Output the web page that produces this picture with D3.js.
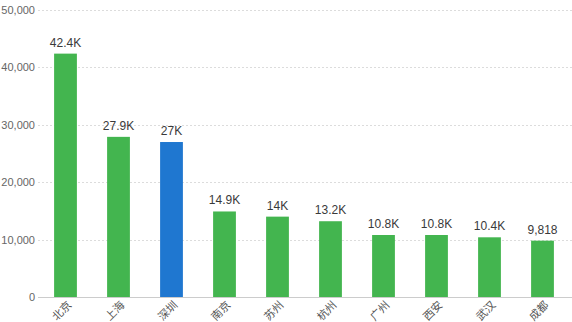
<!DOCTYPE html>
<html>
<head>
<meta charset="utf-8">
<script src="https://cdn.jsdelivr.net/npm/d3@7"></script>
<style>
  html, body { margin: 0; padding: 0; background: #fff; }
  svg { display: block; font-family: "Liberation Sans", Arial, "Noto Sans CJK SC", sans-serif; }
</style>
</head>
<body>
<svg id="chart" width="572" height="322"></svg>
<script>
const cities = ["北京", "上海", "深圳", "南京", "苏州", "杭州", "广州", "西安", "武汉", "成都"];
const counts = [42400, 27900, 27000, 14900, 14000, 13200, 10800, 10800, 10400, 9818];
const highlighted = ["深圳"];
const yTicks = [0, 10000, 20000, 30000, 40000, 50000];

const svg = d3.select("#chart");
const margin = { left: 39, right: 3, top: 10, bottom: 25 };
const W = 572, H = 322;

const x = d3.scaleBand().domain(cities).range([margin.left, W - margin.right])
  .paddingInner(0.57).paddingOuter(0.285);
const y = d3.scaleLinear().domain([0, 50000]).range([H - margin.bottom, margin.top]);

// horizontal grid
svg.append("g").selectAll("line").data(yTicks.filter(d => d > 0)).join("line")
  .attr("x1", margin.left - 1).attr("x2", W)
  .attr("y1", d => Math.round(y(d)) + 0.5).attr("y2", d => Math.round(y(d)) + 0.5)
  .attr("stroke", "#dcdcdc").attr("stroke-dasharray", "2,2");

// y axis labels
const yAxis = svg.append("g").attr("transform", `translate(${margin.left - 4},0)`)
  .call(d3.axisLeft(y).tickValues(yTicks).tickFormat(d3.format(",")).tickSize(0).tickPadding(0));
yAxis.select(".domain").remove();
yAxis.selectAll("text").attr("fill", "#666").attr("font-size", 11)
  .attr("font-family", "Liberation Sans, Arial, sans-serif");

// bars
const data = cities.map((c, i) => ({ city: c, value: counts[i] }));
svg.append("g").selectAll("rect").data(data).join("rect")
  .attr("x", d => x(d.city)).attr("width", x.bandwidth())
  .attr("y", d => y(d.value)).attr("height", d => y(0) - y(d.value))
  .attr("fill", d => highlighted.includes(d.city) ? "#1f77d0" : "#43b54f");

// value labels
const fmt = v => v >= 10000 ? (Math.round(v / 100) / 10).toString() + "K" : d3.format(",")(v);
svg.append("g").selectAll("text").data(data).join("text")
  .attr("x", d => x(d.city) + x.bandwidth() / 2)
  .attr("y", d => y(d.value) - 7)
  .attr("text-anchor", "middle").attr("font-size", 12).attr("fill", "#3a3a3a")
  .text(d => fmt(d.value));

// x axis
const xAxis = svg.append("g").attr("transform", `translate(0,${y(0)})`)
  .call(d3.axisBottom(x).tickSize(0).tickPadding(0));
xAxis.select(".domain").attr("d", `M${margin.left - 1},0.5H${W}`).attr("stroke", "#ccc");
xAxis.selectAll("text")
  .attr("fill", "#555").attr("font-size", 11)
  .attr("font-family", "Noto Sans CJK SC, sans-serif")
  .attr("text-anchor", "end")
  .attr("dy", "0.35em")
  .attr("transform", "translate(4,6) rotate(-45)");
</script>
</body>
</html>
